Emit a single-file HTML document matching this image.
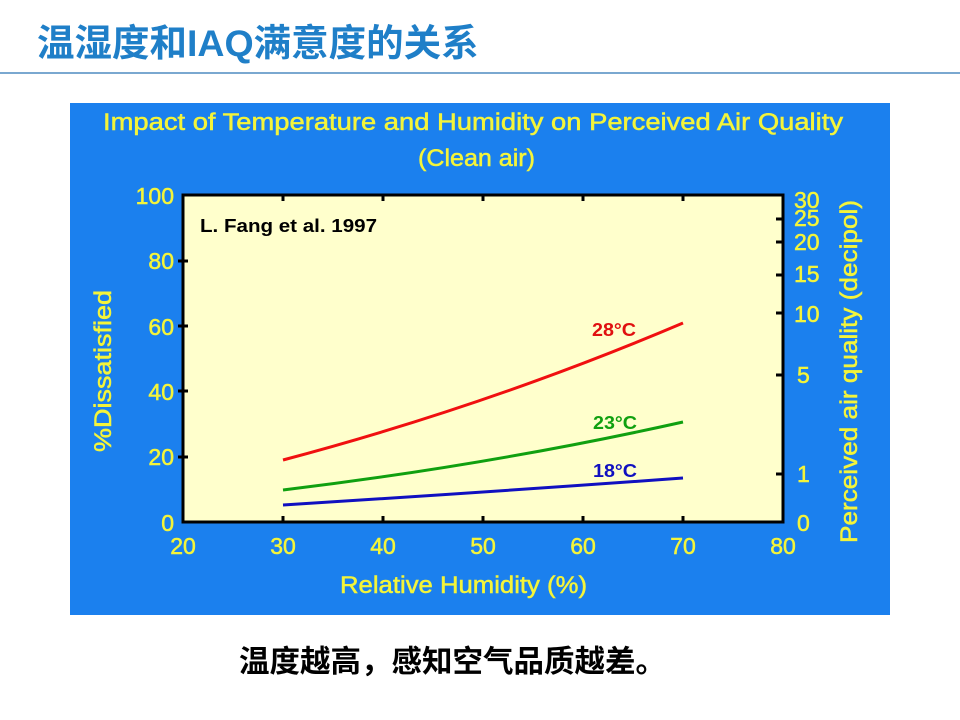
<!DOCTYPE html>
<html><head><meta charset="utf-8"><style>
body{margin:0;width:960px;height:720px;background:#fff;position:relative;overflow:hidden;font-family:"Liberation Sans","Noto Sans CJK SC",sans-serif}
.t{position:absolute;left:37px;top:21px;font-size:37.5px;font-weight:bold;color:#1f7fc8;white-space:nowrap;line-height:44px}
.line{position:absolute;left:0;top:72px;width:960px;height:2px;background:#7aa8d0}
.cap{position:absolute;left:239px;top:643px;font-size:30.5px;font-weight:bold;color:#000;white-space:nowrap;line-height:38px}
</style></head><body>
<div class="t">温湿度和IAQ满意度的关系</div>
<div class="line"></div>
<svg style="position:absolute;left:0;top:0" width="960" height="720">
<rect x="70" y="103" width="820" height="512" fill="#1b80ee"/>
<g font-family="Liberation Sans,sans-serif" fill="#f4f43a" stroke="#f4f43a" stroke-width="0.5" font-size="24">
<text x="103" y="130" textLength="740" lengthAdjust="spacingAndGlyphs">Impact of Temperature and Humidity on Perceived Air Quality</text>
<text x="418" y="166" textLength="117" lengthAdjust="spacingAndGlyphs">(Clean air)</text>
<g text-anchor="end" font-size="23">
<text x="174" y="204">100</text><text x="174" y="269">80</text><text x="174" y="335">60</text><text x="174" y="400">40</text><text x="174" y="465">20</text><text x="174" y="531">0</text>
</g>
<g text-anchor="middle" font-size="23">
<text x="183" y="554">20</text><text x="283" y="554">30</text><text x="383" y="554">40</text><text x="483" y="554">50</text><text x="583" y="554">60</text><text x="683" y="554">70</text><text x="783" y="554">80</text>
</g>
<g font-size="23">
<text x="794" y="208">30</text><text x="794" y="226">25</text><text x="794" y="250">20</text><text x="794" y="282">15</text><text x="794" y="322">10</text><text x="797" y="383">5</text><text x="797" y="482">1</text><text x="797" y="531">0</text>
</g>
<text x="340" y="593" textLength="247" lengthAdjust="spacingAndGlyphs">Relative Humidity (%)</text>
<text transform="translate(111,452) rotate(-90)" textLength="162" lengthAdjust="spacingAndGlyphs">%Dissatisfied</text>
<text transform="translate(857,543) rotate(-90)" textLength="343" lengthAdjust="spacingAndGlyphs">Perceived air quality (decipol)</text>
</g>
<rect x="183" y="195" width="600" height="327" fill="#ffffcc" stroke="#000" stroke-width="3"/>
<g stroke="#000" stroke-width="3">
<line x1="178" y1="261" x2="188" y2="261"/><line x1="178" y1="326" x2="188" y2="326"/><line x1="178" y1="391" x2="188" y2="391"/><line x1="178" y1="457" x2="188" y2="457"/>
<line x1="283" y1="195" x2="283" y2="201"/><line x1="383" y1="195" x2="383" y2="201"/><line x1="483" y1="195" x2="483" y2="201"/><line x1="583" y1="195" x2="583" y2="201"/><line x1="683" y1="195" x2="683" y2="201"/>
<line x1="283" y1="522" x2="283" y2="516"/><line x1="383" y1="522" x2="383" y2="516"/><line x1="483" y1="522" x2="483" y2="516"/><line x1="583" y1="522" x2="583" y2="516"/><line x1="683" y1="522" x2="683" y2="516"/>
<line x1="776" y1="219" x2="783" y2="219"/><line x1="776" y1="242" x2="783" y2="242"/><line x1="776" y1="275" x2="783" y2="275"/><line x1="776" y1="313" x2="783" y2="313"/><line x1="776" y1="375" x2="783" y2="375"/><line x1="776" y1="474" x2="783" y2="474"/>
</g>
<path d="M283 460 Q490 405 683 323" fill="none" stroke="#f01010" stroke-width="3"/>
<path d="M283 490 Q490 465 683 422" fill="none" stroke="#10a010" stroke-width="3"/>
<path d="M283 505 Q490 492 683 478" fill="none" stroke="#1010c0" stroke-width="3"/>
<g font-family="Liberation Sans,sans-serif" font-weight="bold" font-size="18">
<text x="200" y="232" fill="#000" textLength="177" lengthAdjust="spacingAndGlyphs">L. Fang et al. 1997</text>
<text x="592" y="336" fill="#e01010" textLength="44" lengthAdjust="spacingAndGlyphs">28°C</text>
<text x="593" y="429" fill="#10a010" textLength="44" lengthAdjust="spacingAndGlyphs">23°C</text>
<text x="593" y="477" fill="#1010c0" textLength="44" lengthAdjust="spacingAndGlyphs">18°C</text>
</g>
</svg>
<div class="cap">温度越高，感知空气品质越差。</div>
</body></html>
